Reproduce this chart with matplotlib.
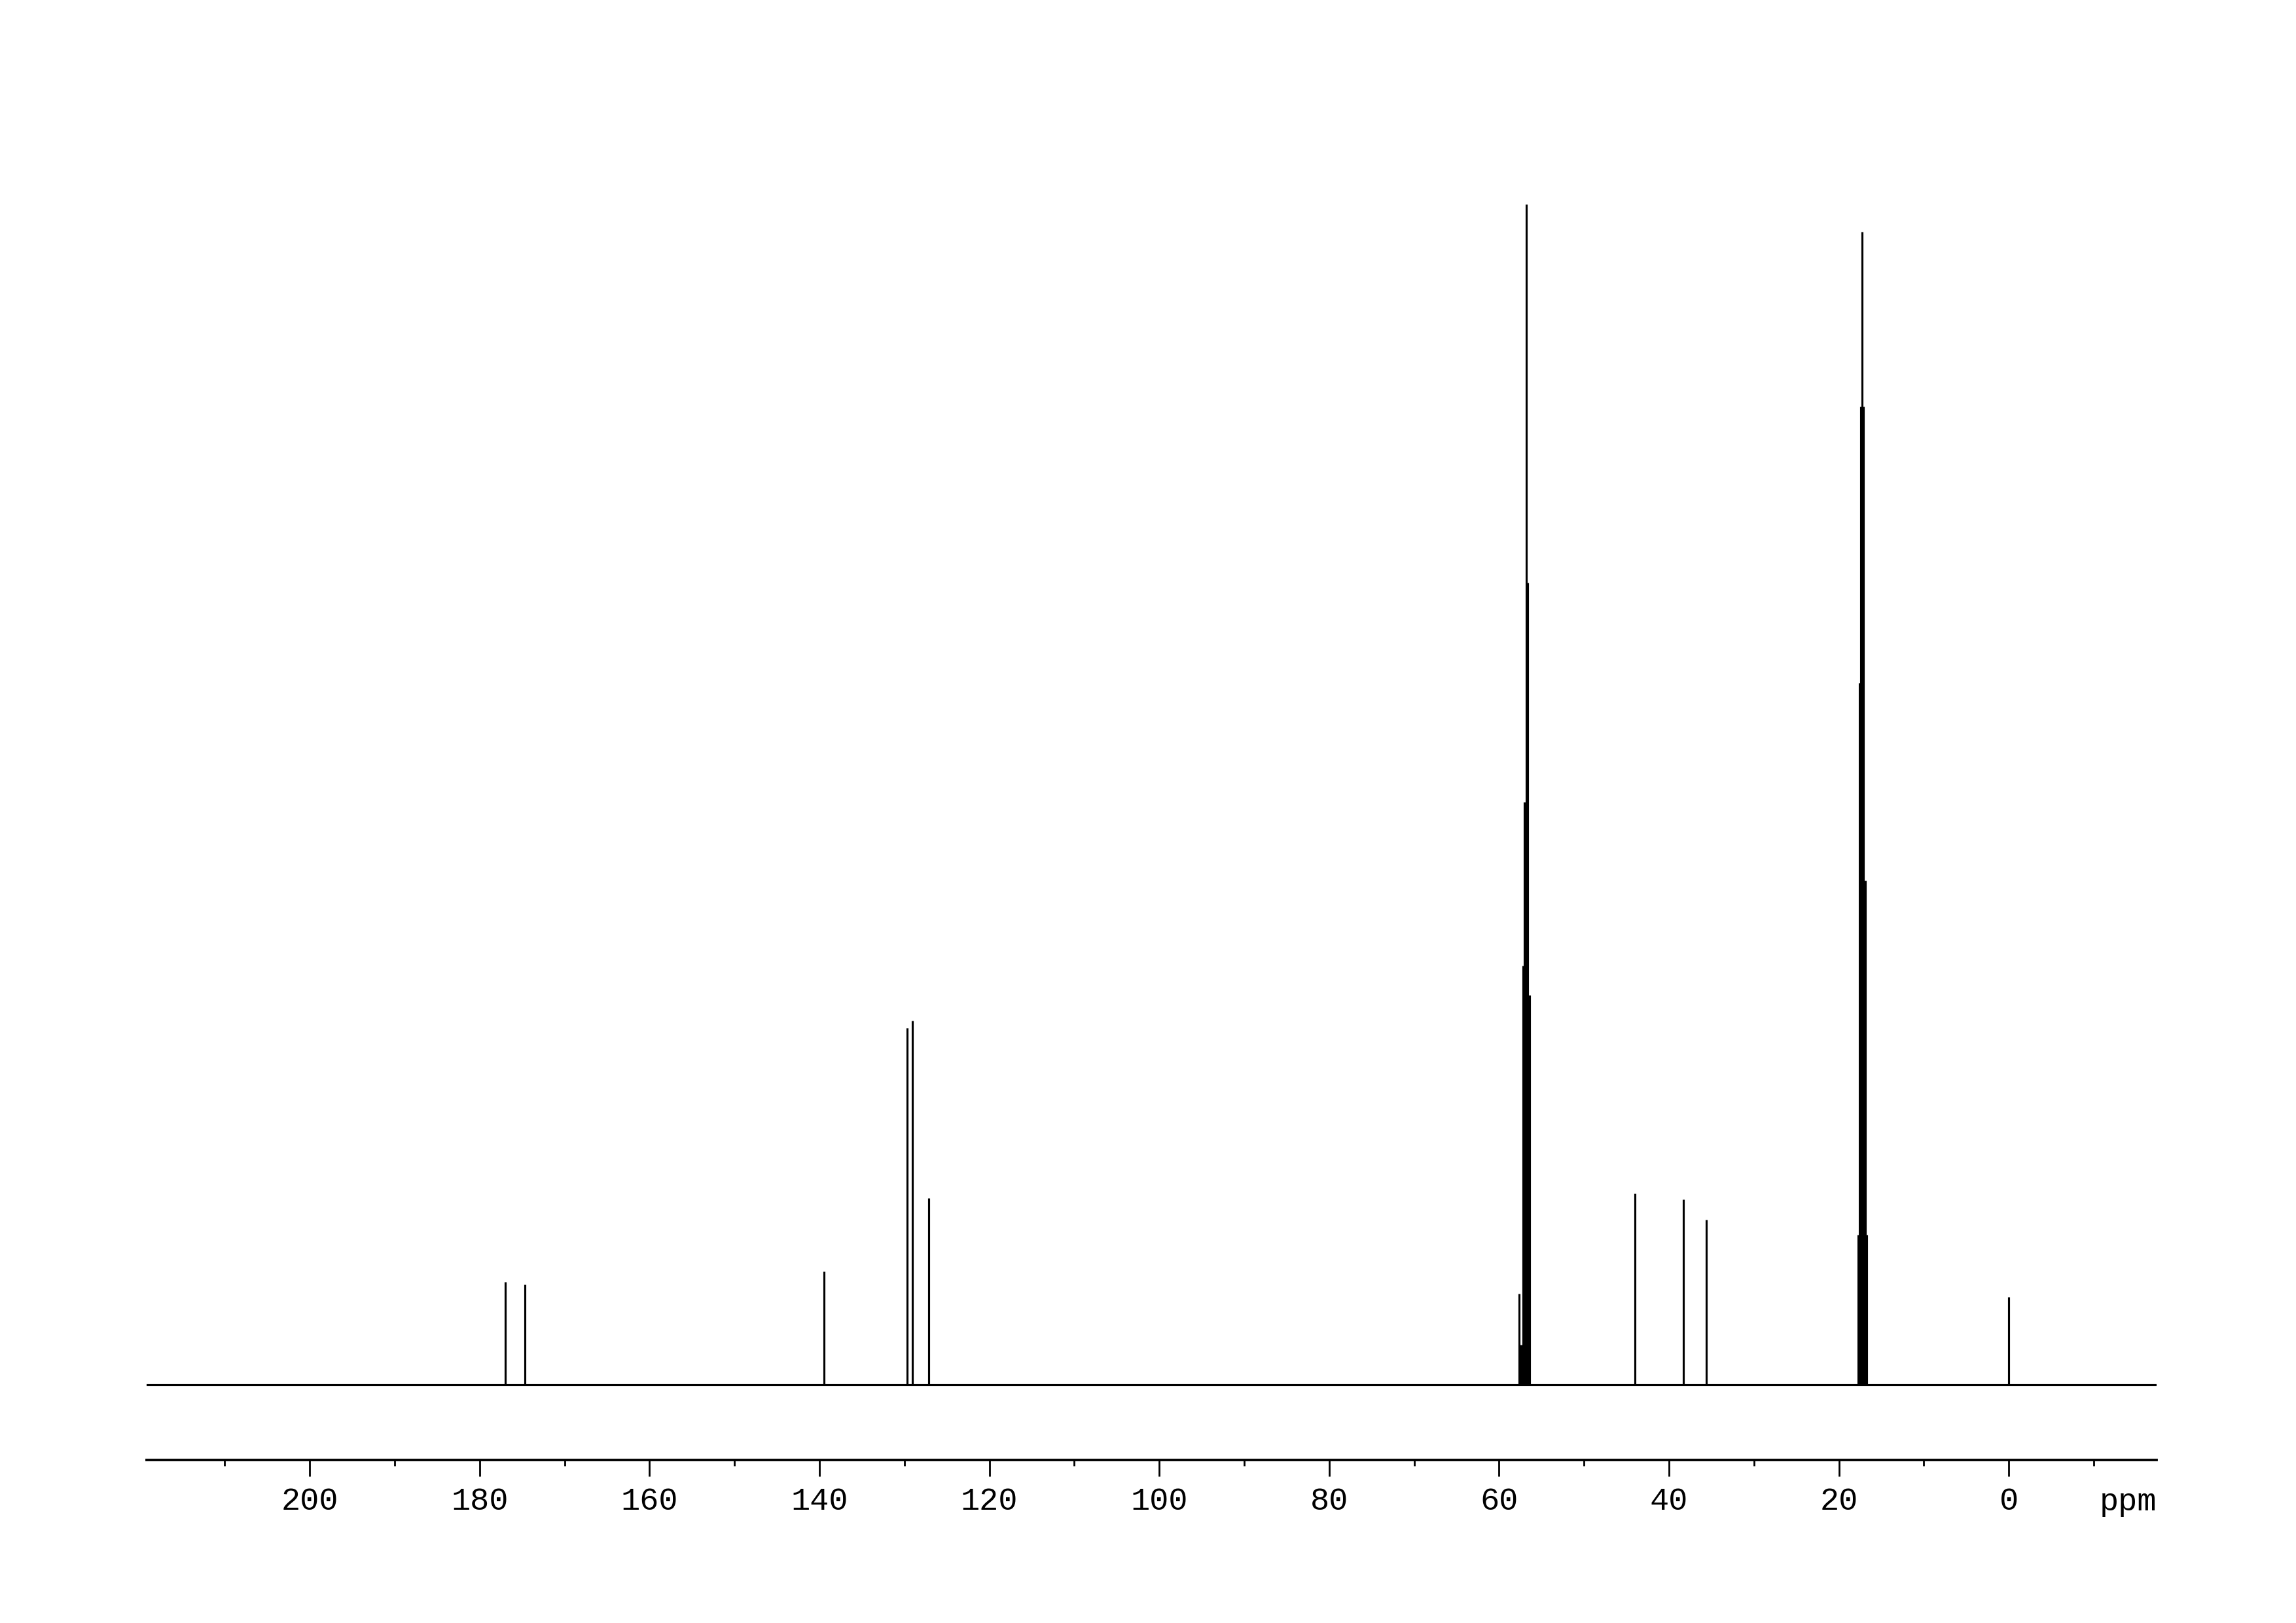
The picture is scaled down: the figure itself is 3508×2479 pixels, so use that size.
import matplotlib
matplotlib.use("Agg")
import matplotlib.pyplot as plt
from matplotlib.ticker import FixedLocator

# ---- data (13C NMR spectrum) ----
peak_ppm = [176.98, 174.67, 139.45, 129.70, 129.05, 127.15,
            57.64, 57.41, 57.16, 57.00, 56.83, 56.64, 56.43,
            44.00, 38.30, 35.60,
            17.72, 17.56, 17.40, 17.24, 17.08, 16.92, 16.76,
            0.00]
peak_intensity = [157, 153, 173, 545, 556, 285,
                  139, 61, 640, 890, 1803, 1225, 595,
                  292, 283, 252,
                  229, 1072, 1494, 1761, 1494, 770, 229,
                  134]
major_ticks = [200, 180, 160, 140, 120, 100, 80, 60, 40, 20, 0]
major_labels = ["200", "180", "160", "140", "120", "100", "80", "60", "40", "20", "0"]
minor_ticks = [210, 190, 170, 150, 130, 110, 90, 70, 50, 30, 10, -10]
x_range = (219.2, -17.4)
y_range = (-115, 1865)

W, H, DPI = 3508, 2479, 250
fig = plt.figure(figsize=(W / DPI, H / DPI), dpi=DPI)
fig.patch.set_facecolor("white")

ax = fig.add_axes([224 / W, (H - 2230) / H, (3295 - 224) / W, (2230 - 250) / H])
ax.set_xlim(*x_range)
ax.set_ylim(*y_range)

# baseline and peaks
ax.axhline(0, color="black", lw=0.9, zorder=2)
ax.vlines(peak_ppm, 0, peak_intensity, colors="black", lw=0.9, zorder=3)

# axes styling
for side in ("left", "right", "top"):
    ax.spines[side].set_visible(False)
ax.spines["bottom"].set_linewidth(1.1)
ax.set_yticks([])
ax.xaxis.set_major_locator(FixedLocator(major_ticks))
ax.set_xticklabels(major_labels, fontfamily="Liberation Mono", fontsize=14)
ax.xaxis.set_minor_locator(FixedLocator(minor_ticks))
ax.tick_params(axis="x", which="major", length=7.2, width=0.8, direction="out", pad=4.5)
ax.tick_params(axis="x", which="minor", length=2.6, width=0.8, direction="out")

ax.text(1.0, -77 / 1980, "ppm", transform=ax.transAxes, ha="right", va="baseline",
        fontfamily="Liberation Mono", fontsize=14)

fig.savefig("out.png", dpi=DPI, facecolor="white")
